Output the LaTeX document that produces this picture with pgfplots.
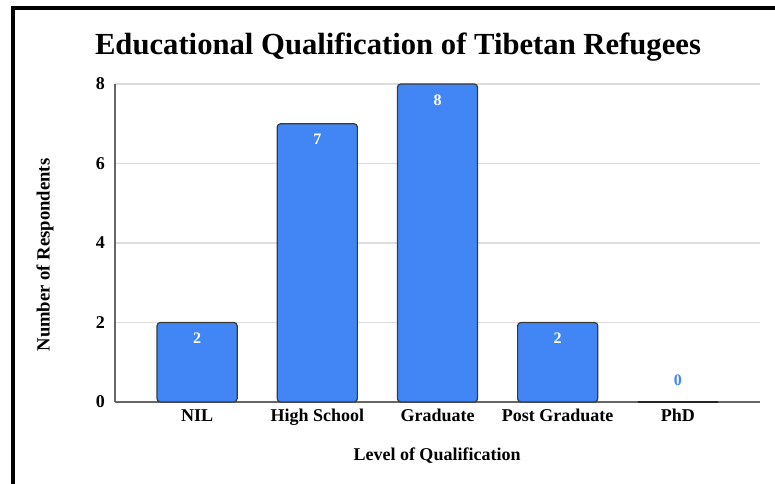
\documentclass[border=0pt]{standalone}
\usepackage{fontspec}
\setmainfont{Liberation Serif}
\usepackage{pgfplots}
\pgfplotsset{compat=1.18}
\definecolor{barblue}{HTML}{4285F4}
\definecolor{baredge}{HTML}{3A3A3A}
\definecolor{gridgray}{HTML}{DDDDDD}
\begin{document}
\begin{tikzpicture}[x=0.75pt,y=0.75pt]
% frame of the screenshot, 775 x 484 px, y measured from the bottom
\useasboundingbox (0,0) rectangle (775,484);
\fill[white] (0,0) rectangle (775,484);
\draw[line width=2.5pt] (13,0) -- (13,476) -- (775,476);
\node[font=\bfseries\fontsize{23}{27}\selectfont] at (398,437) {Educational Qualification of Tibetan Refugees};
\node[font=\bfseries\fontsize{14}{16}\selectfont, rotate=90] at (45,229) {Number of Respondents};
\node[font=\bfseries\fontsize{13.5}{16}\selectfont] at (437,28) {Level of Qualification};
\begin{axis}[
    at={(115*0.75pt,82*0.75pt)}, anchor=south west,
    scale only axis,
    width=645*0.75pt, height=318*0.75pt,
    ybar, bar width=0.667,
    xmin=-0.683, xmax=4.683,
    ymin=0, ymax=8,
    ytick={0,2,4,6,8},
    xtick={0,1,2,3,4},
    xticklabels={NIL, High School, Graduate, Post Graduate, PhD},
    ticklabel style={font=\bfseries\fontsize{13.5}{16}\selectfont},
    /pgf/number format/assume math mode=true,
    axis x line=bottom, axis y line=left,
    axis line style={-, draw=gray!80!black, line width=0.8pt},
    major tick length=0pt,
    ymajorgrids, grid style={gridgray, line width=0.8pt},
    xticklabel style={yshift=-2pt},
    yticklabel style={xshift=-4pt},
    clip=false,
  ]
  \addplot+[bar shift=0pt, fill=barblue, draw=baredge, line width=0.9pt, rounded corners=2.5pt,
    nodes near coords,
    every node near coord/.append style={white, font=\bfseries\fontsize{12}{14}\selectfont, anchor=center, yshift=-12pt}]
    coordinates {(0,2) (1,7) (2,8) (3,2)};
  \addplot+[bar shift=0pt, fill=barblue, draw=black!85, line width=1.5pt,
    nodes near coords,
    every node near coord/.append style={barblue, font=\bfseries\fontsize{12}{14}\selectfont, anchor=center, yshift=16.5pt}]
    coordinates {(4,0)};
\end{axis}
\end{tikzpicture}
\end{document}
